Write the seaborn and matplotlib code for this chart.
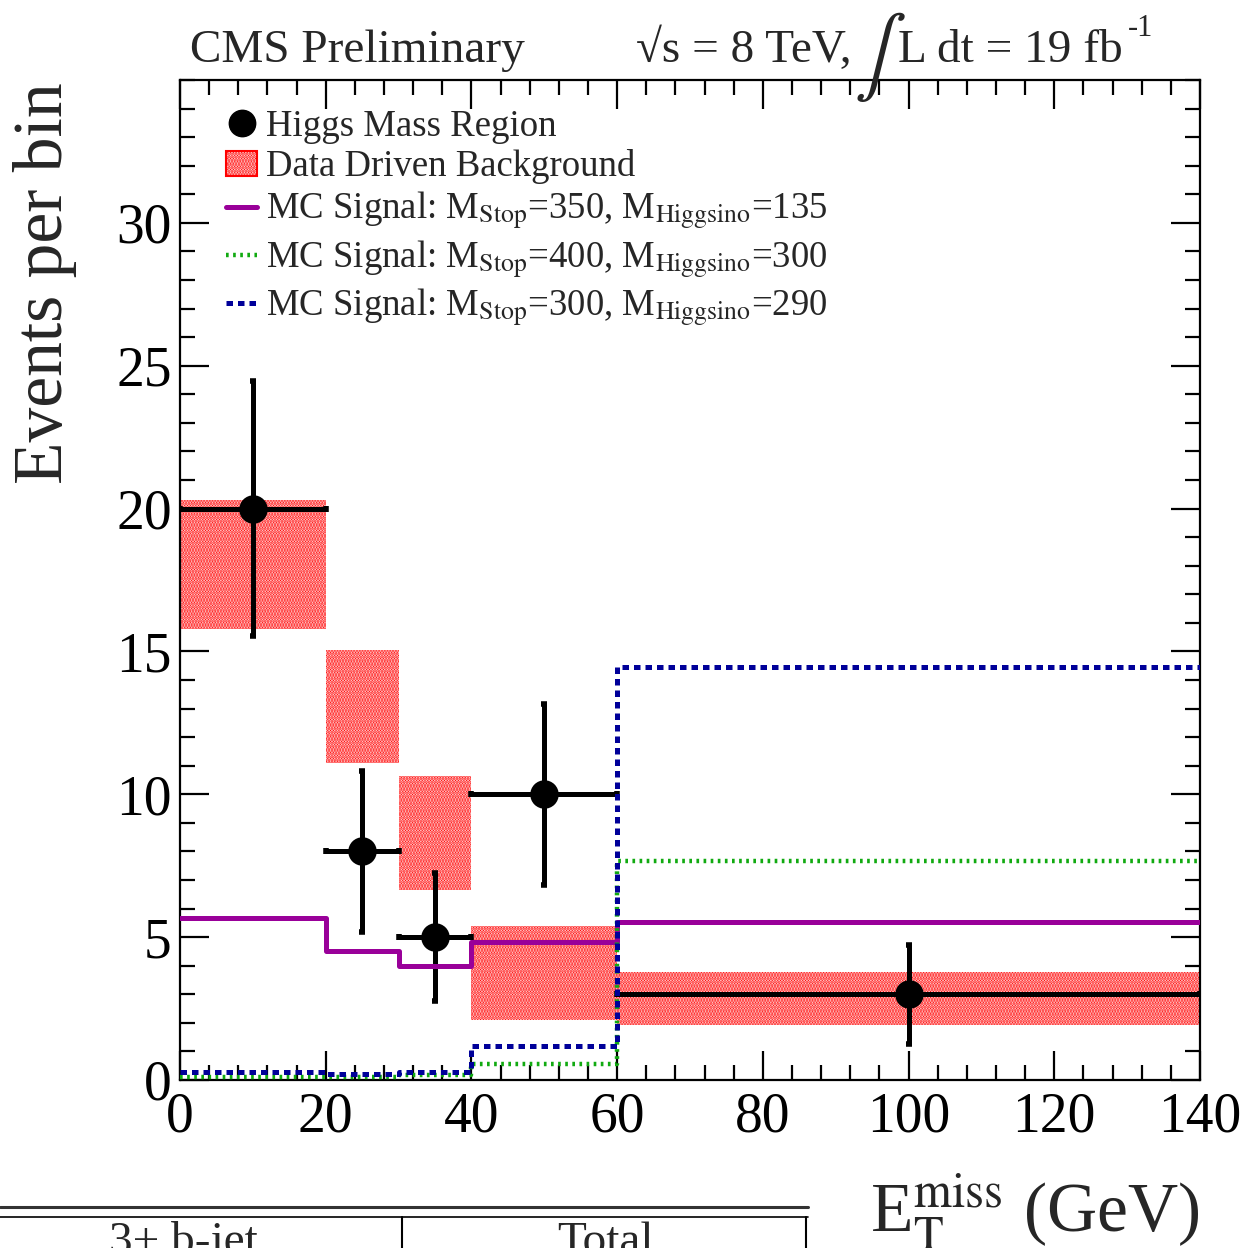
import numpy as np
import matplotlib
matplotlib.use("Agg")
import matplotlib.pyplot as plt
import seaborn as sns
from matplotlib.lines import Line2D
from matplotlib.patches import Patch
from matplotlib.ticker import MultipleLocator, FixedLocator

# binning in missing ET (GeV)
bin_edges = [0, 20, 30, 40, 60, 140]

# data in the Higgs mass region
data_counts = [20, 8, 5, 10, 3]
data_errors = [4.47, 2.83, 2.24, 3.16, 1.73]

# data driven background band (low / high edge per bin)
bkg_low = [15.8, 11.1, 6.65, 2.1, 1.93]
bkg_high = [20.3, 15.05, 10.65, 5.4, 3.78]

# MC signal samples
sig_350_135 = [5.67, 4.52, 3.99, 4.83, 5.53]
sig_400_300 = [0.1, 0.12, 0.17, 0.56, 7.67]
sig_300_290 = [0.28, 0.21, 0.28, 1.19, 14.47]

y_ticks = [0, 5, 10, 15, 20, 25, 30]

edges = np.array(bin_edges, dtype=float)
centers = 0.5 * (edges[1:] + edges[:-1])
widths = np.diff(edges)

sns.set_theme(style="ticks")
plt.rcParams["font.family"] = ["Liberation Serif", "DejaVu Serif"]
plt.rcParams["mathtext.fontset"] = "stix"
plt.rcParams["hatch.linewidth"] = 1.6
plt.rcParams["axes.linewidth"] = 1.6

fig = plt.figure(figsize=(12.48, 12.48), dpi=100)
ax = fig.add_axes([180 / 1248, 1 - 1080 / 1248, 1020 / 1248, 1000 / 1248])

# background band
ax.bar(centers, np.array(bkg_high) - np.array(bkg_low), width=widths,
       bottom=bkg_low, facecolor="white", edgecolor="red", hatch="......",
       linewidth=0, zorder=1)

# data with errors
ax.errorbar(centers, data_counts, xerr=widths / 2, yerr=data_errors,
            fmt="none", ecolor="black", elinewidth=3.6, capsize=2.5,
            capthick=4, zorder=3)
sns.scatterplot(x=centers, y=data_counts, s=420, color="black",
                linewidth=0, ax=ax, zorder=4)

# MC signals as step histograms
sns.histplot(x=centers, weights=sig_350_135, bins=bin_edges, element="step",
             fill=False, color="#990099", linewidth=3.6, ax=ax, zorder=5)
sns.histplot(x=centers, weights=sig_400_300, bins=bin_edges, element="step",
             fill=False, color="#11aa11", linewidth=3.2,
             linestyle=(0, (0.6, 1.0)), ax=ax, zorder=5)
sns.histplot(x=centers, weights=sig_300_290, bins=bin_edges, element="step",
             fill=False, color="#000099", linewidth=3.6,
             linestyle=(0, (1.3, 1.0)), ax=ax, zorder=6)

ax.set_xlim(0, 140)
ax.set_ylim(0, 35)
ax.set_xlabel("")
ax.set_ylabel("")
ax.xaxis.set_major_locator(MultipleLocator(20))
ax.xaxis.set_minor_locator(MultipleLocator(4))
ax.yaxis.set_major_locator(FixedLocator(y_ticks))
ax.yaxis.set_minor_locator(MultipleLocator(1))
ax.tick_params(which="both", direction="in", top=True, right=True,
               width=1.6, colors="black", labelsize=40)
ax.tick_params(which="major", length=21)
ax.tick_params(which="minor", length=10.5)
ax.tick_params(axis="x", pad=8)
ax.tick_params(axis="y", pad=6)
for sp in ax.spines.values():
    sp.set_color("black")

# legend
handles = [
    Line2D([], [], marker="o", color="black", markersize=19, linestyle="none"),
    Patch(facecolor="white", edgecolor="red", hatch="......", linewidth=1.5),
    Line2D([], [], color="#990099", linewidth=3.6),
    Line2D([], [], color="#11aa11", linewidth=3.2, linestyle=(0, (0.6, 1.0))),
    Line2D([], [], color="#000099", linewidth=3.6, linestyle=(0, (1.3, 1.0))),
]
labels = [
    "Higgs Mass Region",
    "Data Driven Background",
    r"MC Signal: M$_{\rm Stop}$=350, M$_{\rm Higgsino}$=135",
    r"MC Signal: M$_{\rm Stop}$=400, M$_{\rm Higgsino}$=300",
    r"MC Signal: M$_{\rm Stop}$=300, M$_{\rm Higgsino}$=290",
]
ax.legend(handles, labels, loc="upper left", frameon=False, fontsize=26.5,
          bbox_to_anchor=(226 / 1248, 1 - 109 / 1248),
          bbox_transform=fig.transFigure, handlelength=0.85,
          handletextpad=0.25, labelspacing=0.16, borderpad=0, borderaxespad=0)

# header texts
fig.text(190 / 1248, 1 - 62 / 1248, "CMS Preliminary", fontsize=34,
         ha="left", va="baseline")
fig.text(636 / 1248, 1 - 62 / 1248, "\u221as = 8 TeV,", fontsize=34,
         ha="left", va="baseline")
fig.text(854 / 1248, 1 - 77 / 1248, r"$\int$", fontsize=56,
         ha="left", va="baseline")
fig.text(898 / 1248, 1 - 62 / 1248, "L dt = 19 fb", fontsize=34,
         ha="left", va="baseline")
fig.text(1128 / 1248, 1 - 36 / 1248, "-1", fontsize=22,
         ha="left", va="baseline")

# axis titles
fig.text(45 / 1248, 1 - 82 / 1248, "Events per bin", fontsize=50,
         rotation=90, ha="center", va="top")
fig.text(1200 / 1248, 1 - 1232 / 1248, r"E$_{\rm T}^{\rm miss}$ (GeV)",
         fontsize=50, ha="right", va="baseline")

# cut-off table from the slide below the plot
fig.add_artist(Line2D([0, 808 / 1248], [1 - 1207 / 1248] * 2, color="#333333",
                      linewidth=2.2, transform=fig.transFigure))
fig.add_artist(Line2D([0, 808 / 1248], [1 - 1217 / 1248] * 2, color="black",
                      linewidth=1.2, transform=fig.transFigure))
for xv in (402, 806):
    fig.add_artist(Line2D([xv / 1248] * 2, [1 - 1217 / 1248, 0], color="black",
                          linewidth=1.5, transform=fig.transFigure))
fig.text(183 / 1248, 1 - 1221 / 1248, "3+ b-jet", fontsize=34,
         ha="center", va="top")
fig.text(605 / 1248, 1 - 1221 / 1248, "Total", fontsize=34,
         ha="center", va="top")

fig.savefig("out.png", dpi=100)
